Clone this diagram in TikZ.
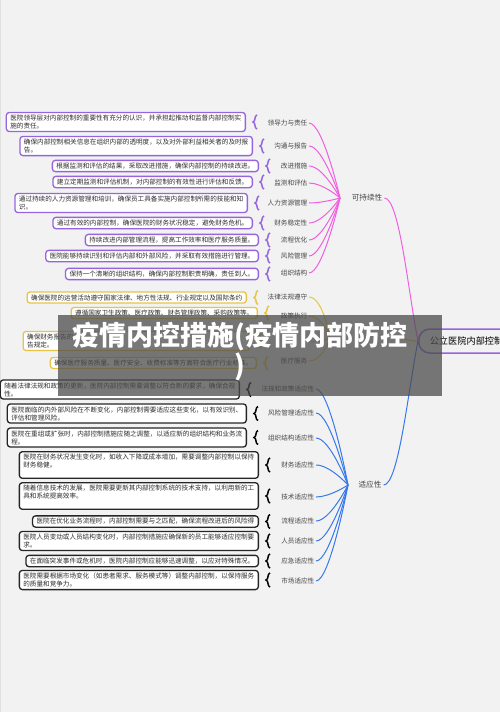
\documentclass[tikz,border=0pt]{standalone}
\usepackage{fontspec}
\setmainfont{Noto Sans CJK SC}
\usetikzlibrary{positioning,decorations.pathreplacing}
\definecolor{cBg}{RGB}{242,242,242}
\definecolor{cPurp}{RGB}{150,100,220}
\definecolor{cPink}{RGB}{240,95,225}
\definecolor{cGold}{RGB}{232,196,70}
\definecolor{cBlue}{RGB}{55,120,235}
\definecolor{cInk}{RGB}{45,45,45}
\definecolor{cLbl}{RGB}{70,70,70}
\tikzset{
  basebox/.style={rectangle,rounded corners=3pt,fill=white,align=left,
                  inner xsep=4pt,inner ysep=2.5pt,text=cInk,anchor=east,
                  font=\fontsize{6.6}{8}\selectfont},
  purbox/.style={basebox,draw=cPurp,line width=1.3pt},
  yelbox/.style={basebox,draw=cGold,line width=1.3pt},
  blkbox/.style={basebox,draw=black!85,line width=1.3pt},
  leaflbl/.style={anchor=east,inner sep=1.5pt,text=cLbl,
                  font=\fontsize{6.6}{8}\selectfont},
  branchlbl/.style={inner sep=2pt,text=cLbl,font=\fontsize{7.6}{9}\selectfont},
  rootbox/.style={rectangle,rounded corners=11pt,draw=cPurp,line width=1.5pt,
                  fill=cBg,anchor=west,text width=100pt,inner xsep=11pt,
                  minimum height=24pt,align=left,
                  font=\fontsize{9.2}{11}\selectfont},
  brc/.style={decorate,decoration={brace,amplitude=4pt},line width=1.5pt},
  pinkln/.style={cPink,line width=1pt},
  goldln/.style={cGold,line width=1pt},
  blueln/.style={cBlue,line width=1pt}
}

\begin{document}
\begin{tikzpicture}[x=1pt,y=-1pt]
  % canvas
  \fill[cBg] (0,0) rectangle (500,712);
  \useasboundingbox (0,0) rectangle (500,712);
  \draw[black!12] (0.5,0) -- (0.5,712);

  % root
  \node[rootbox] (root) at (418,341) {公立医院内部控制};

  % sustainability branch
  \node[branchlbl] (sus) at (367,198) {可持续性};
  \coordinate (susHub) at (340,198);
  \node[leaflbl] (s1) at (309,123) {领导力与责任};
  \node[leaflbl] (s2) at (309,146) {沟通与报告};
  \node[leaflbl] (s3) at (309,166) {改进措施};
  \node[leaflbl] (s4) at (309,183) {监测和评估};
  \node[leaflbl] (s5) at (309,203) {人力资源管理};
  \node[leaflbl] (s6) at (309,223) {财务稳定性};
  \node[leaflbl] (s7) at (309,240) {流程优化};
  \node[leaflbl] (s8) at (309,256) {风险管理};
  \node[leaflbl] (s9) at (309,273) {组织结构};

  \node[purbox] (p1) at (246,122) {医院领导层对内部控制的重要性有充分的认识，并承担起推动和监督内部控制实\\施的责任。};
  \node[purbox] (p2) at (253,146) {确保内部控制相关信息在组织内部的透明度，以及对外部利益相关者的及时报\\告。};
  \node[purbox] (p3) at (259,166) {根据监测和评估的结果，采取改进措施，确保内部控制的持续改进。};
  \node[purbox] (p4) at (253,182) {建立定期监测和评估机制，对内部控制的有效性进行评估和反馈。};
  \node[purbox] (p5) at (248,203) {通过持续的人力资源管理和培训，确保员工具备实施内部控制所需的技能和知\\识。};
  \node[purbox] (p6) at (253,223) {通过有效的内部控制，确保医院的财务状况稳定，避免财务危机。};
  \node[purbox] (p7) at (259,240) {持续改进内部管理流程，提高工作效率和医疗服务质量。};
  \node[purbox] (p8) at (259,256) {医院能够持续识别和评估内部和外部风险，并采取有效措施进行管理。};
  \node[purbox] (p9) at (259,274) {保持一个清晰的组织结构，确保内部控制职责明确，责任到人。};

  % compliance branch
  \coordinate (legHub) at (330,338);
  \coordinate (legEnd) at (396,338);
  \node[leaflbl] (g1) at (309,297) {法律法规遵守};
  \node[leaflbl] (g2) at (309,316) {政策执行};
  \coordinate (g3) at (309,342);
  \node[leaflbl] (g4) at (309,361) {医疗服务};

  \node[yelbox] (y1) at (247,297.5) {确保医院的运营活动遵守国家法律、地方性法规、行业规定以及国际条约};
  \node[yelbox] (y2) at (258,313) {遵循国家卫生政策、医疗政策、财务管理政策、采购政策等。};
  \node[yelbox] (y3) at (250,341) {确保财务报告的\hspace*{172pt}\\告规定。};
  \node[yelbox] (y4) at (257,363) {确保医疗服务质量、医疗安全、收费标准等方面符合医疗行业标准。};

  % adaptability branch
  \node[branchlbl] (ada) at (370,485) {适应性};
  \coordinate (adaHub) at (348,485);
  \node[leaflbl] (a1) at (316,389) {法规和政策适应性};
  \node[leaflbl] (a2) at (316,413) {风险管理适应性};
  \node[leaflbl] (a3) at (316,438) {组织结构适应性};
  \node[leaflbl] (a4) at (316,465) {财务适应性};
  \node[leaflbl] (a5) at (316,497) {技术适应性};
  \node[leaflbl] (a6) at (316,521) {流程适应性};
  \node[leaflbl] (a7) at (316,541) {人员适应性};
  \node[leaflbl] (a8) at (316,561) {应急适应性};
  \node[leaflbl] (a9) at (316,581) {市场适应性};

  \node[blkbox] (b1) at (240,389.5) {随着法律法规和政策的更新，医院内部控制需要调整以符合新的要求，确保合规\\性。};
  \node[blkbox] (b2) at (247,413.5) {医院面临的内外部风险在不断变化，内部控制需要适应这些变化，以有效识别、\\评估和管理风险。};
  \node[blkbox] (b3) at (247,437.5) {医院在重组或扩张时，内部控制措施应随之调整，以适应新的组织结构和业务流\\程。};
  \node[blkbox] (b4) at (259,465) {医院在财务状况发生变化时，如收入下降或成本增加，需要调整内部控制以保持\\财务稳健。\\ \mbox{}};
  \node[blkbox] (b5) at (259,496) {随着信息技术的发展，医院需要更新其内部控制系统的技术支持，以利用新的工\\具和系统提高效率。\\ \mbox{}};
  \node[blkbox] (b6) at (259,521.5) {医院在优化业务流程时，内部控制需要与之匹配，确保流程改进后的风险得};
  \node[blkbox] (b7) at (259,541) {医院人员变动或人员结构变化时，内部控制措施应确保新的员工能够适应控制要\\求。};
  \node[blkbox] (b8) at (259,561) {在面临突发事件或危机时，医院内部控制应能够迅速调整，以应对特殊情况。};
  \node[blkbox] (b9) at (259,580) {医院需要根据市场变化（如患者需求、服务模式等）调整内部控制，以保持服务\\的质量和竞争力。};

  % braces
  \foreach \b/\c in {p1/cPurp,p2/cPurp,p3/cPurp,p4/cPurp,p5/cPurp,p6/cPurp,
                     p7/cPurp,p8/cPurp,p9/cPurp,y1/cGold,y2/cGold,y3/cGold,
                     y4/cGold,b1/black,b2/black,b3/black,b4/black,b5/black,
                     b6/black,b7/black,b8/black,b9/black}
    \draw[brc,\c] ([xshift=11pt,yshift=-7pt]\b.east) -- ([xshift=11pt,yshift=7pt]\b.east);

  % connectors
  \foreach \i in {1,...,9}
    \draw[pinkln] (s\i.east) .. controls +(14,0) and (susHub) .. (susHub);
  \foreach \i in {1,...,4}
    \draw[goldln] (g\i.east) .. controls +(14,0) and (legHub) .. (legHub);
  \foreach \i in {1,...,9}
    \draw[blueln] (a\i.east) .. controls +(14,0) and (adaHub) .. (adaHub);
  \draw[pinkln] (sus.east) .. controls +(15,0) and +(-10,-50) .. (root.west);
  \draw[goldln] (legEnd) .. controls +(10,0) and +(-10,0) .. (root.west);
  \draw[blueln] (ada.east) .. controls +(15,0) and +(-10,50) .. (root.west);

  % title overlay
  \fill[black!70,opacity=0.75] (58,315) rectangle (442,396);
  \node[text=white,align=center,font=\fontsize{27}{30}\bfseries\selectfont]
    (title) at (240,352) {疫情内控措施(疫情内部防控\\)};
\end{tikzpicture}
\end{document}
